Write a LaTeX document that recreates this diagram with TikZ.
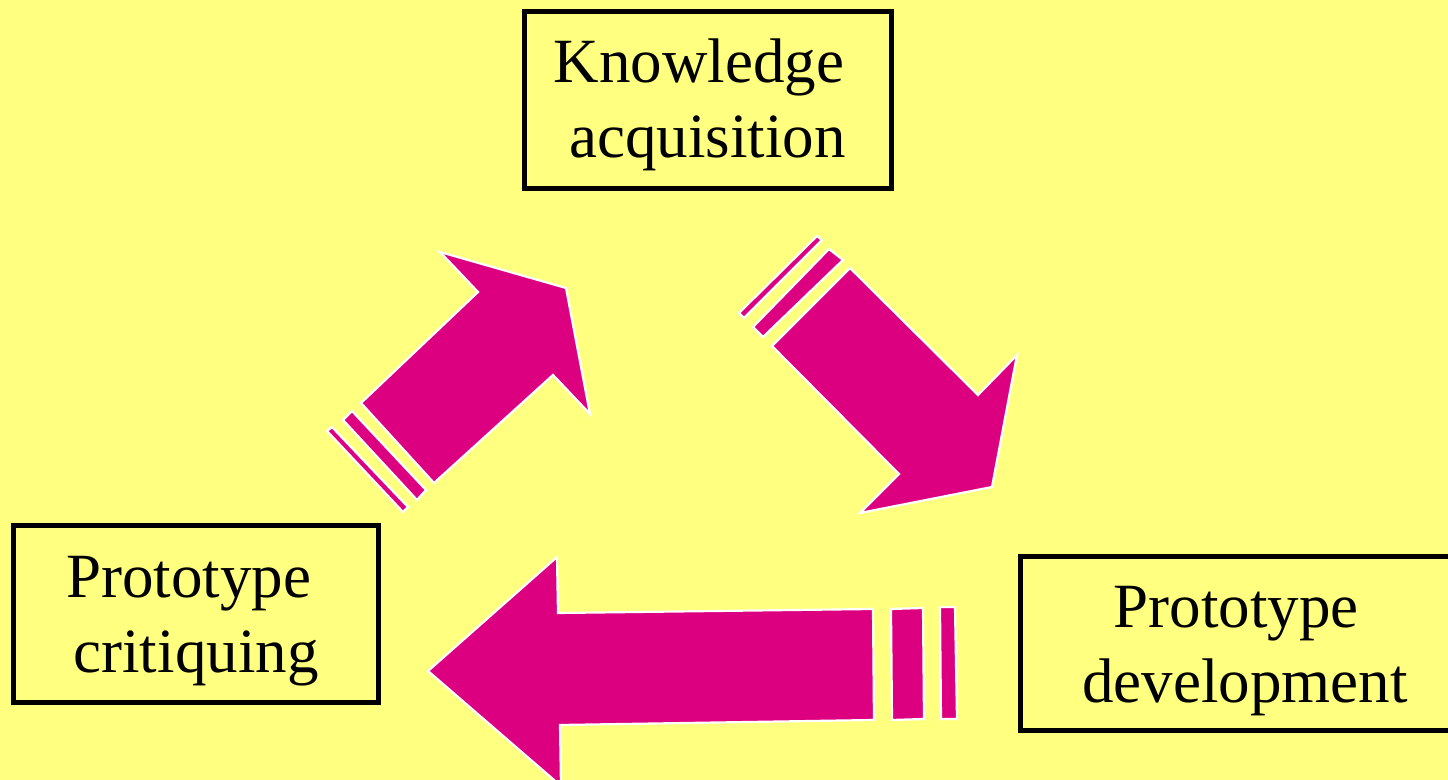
\documentclass[tikz,border=0pt]{standalone}
\usepackage{fontspec}
\setmainfont{Liberation Serif}
\definecolor{bg}{RGB}{255,255,128}
\definecolor{mag}{RGB}{220,0,128}
\begin{document}
\begin{tikzpicture}[x=0.5pt,y=-0.5pt,
  box/.style={draw=black,line width=2.5pt,inner sep=0pt},
  lbl/.style={font=\fontsize{31.5}{37.5}\selectfont,inner sep=0pt,anchor=base},
  arr/.style={fill=mag,draw=white,line width=1.1pt,line join=miter}]
\useasboundingbox (0,0) rectangle (1448,780);
\fill[bg] (0,0) rectangle (1448,780);
\clip (0,0) rectangle (1448,780);

% boxes
\node[box,minimum width=183.5pt,minimum height=88.5pt] (ka) at (707.5,100.5) {};
\node[lbl] (ka1) at ([shift={(-8.5,-17.5)}]ka.center) {Knowledge};
\node[lbl] (ka2) at ([shift={(0,57.5)}]ka.center) {acquisition};

\node[box,minimum width=182.5pt,minimum height=88.5pt] (pc) at (195.5,614.5) {};
\node[lbl] (pc1) at ([shift={(-7,-16.5)}]pc.center) {Prototype};
\node[lbl] (pc2) at ([shift={(0.5,58.5)}]pc.center) {critiquing};

\node[box,minimum width=225pt,minimum height=87.25pt] (pd) at (1245,643.75) {};
\node[lbl] (pd1) at ([shift={(-9,-15.75)}]pd.center) {Prototype};
\node[lbl] (pd2) at ([shift={(0,59.25)}]pd.center) {development};

% arrow: critiquing -> knowledge
\draw[arr] (361,403) -- (478,292) -- (440,252) -- (566,288) -- (590,414) -- (553,375) -- (434,483) -- cycle;
\draw[arr] (352,411) -- (426,490) -- (417,500) -- (343,420) -- cycle;
\draw[arr] (332,427) -- (408,507) -- (403,512) -- (327,431) -- cycle;

% arrow: knowledge -> development
\draw[arr] (850,268) -- (978,395) -- (1017,355) -- (992,487) -- (860,513) -- (899,474) -- (772,346) -- cycle;
\draw[arr] (829,249) -- (843,260) -- (763,337) -- (753,327) -- cycle;
\draw[arr] (817,236) -- (822,240) -- (744,318) -- (739,313) -- cycle;

% arrow: development -> critiquing
\draw[arr] (428,671) -- (557,557) -- (558,613) -- (873,609) -- (874,720) -- (560,725) -- (561,786) -- cycle;
\draw[arr] (891,609) -- (923,608) -- (924,719) -- (892,720) -- cycle;
\draw[arr] (940,607) -- (955,607) -- (957,719) -- (941,719) -- cycle;
\end{tikzpicture}
\end{document}
